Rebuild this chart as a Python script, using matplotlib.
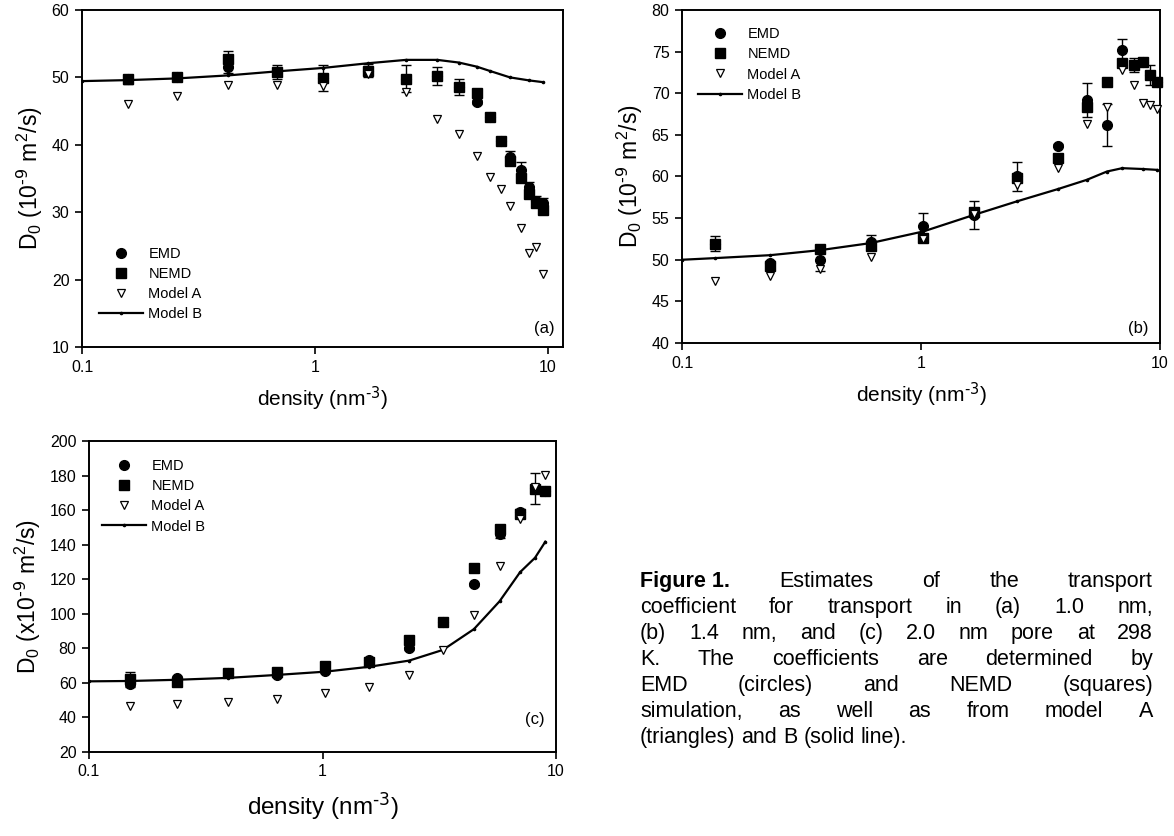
import numpy as np
import matplotlib
matplotlib.use("Agg")
import matplotlib.pyplot as plt
from matplotlib.lines import Line2D

plt.rcParams['font.family'] = ['Liberation Sans', 'DejaVu Sans']
plt.rcParams['mathtext.default'] = 'regular'

# ---- data ----
# (a) 1.0 nm pore
dens_a = [0.158, 0.256, 0.425, 0.69, 1.08, 1.69, 2.46, 3.35, 4.15, 4.94, 5.64, 6.27, 6.87, 7.63, 8.31, 8.88, 9.49]
emd_a = [49.7, 50.0, 51.5, 50.75, 49.9, 51.0, 49.8, 50.2, 48.6, 46.4, 44.1, 40.6, 38.2, 36.3, 33.7, 31.6, 31.3]
emd_a_err = [0.7, 0.4, 0.8, 1.05, 1.9, 1.0, 2.0, 1.4, 1.2, 0.3, 0.3, 0.3, 0.9, 1.1, 0.85, 0.85, 0.85]
nemd_a = [49.7, 50.0, 52.8, 50.75, 49.9, 51.0, 49.8, 50.2, 48.6, 47.7, 44.1, 40.6, 37.6, 35.1, 32.7, 31.4, 30.3]
nemd_a_err = [0.3, 0.3, 1.1, 0.3, 0.3, 0.3, 0.3, 0.3, 0.3, 0.3, 0.3, 0.3, 0.3, 0.3, 0.3, 0.3, 0.3]
modelA_a = [46.0, 47.2, 48.9, 48.8, 48.7, 50.5, 47.8, 43.9, 41.6, 38.4, 35.2, 33.4, 30.9, 27.7, 23.9, 24.8, 20.8]
mb_a_x = [0.1, 0.158, 0.256, 0.425, 0.69, 1.08, 1.69, 2.46, 3.35, 4.15, 4.94, 5.64, 6.87, 8.31, 9.49]
mb_a = [49.45, 49.6, 49.85, 50.3, 50.9, 51.4, 52.1, 52.6, 52.6, 52.2, 51.6, 50.95, 50.0, 49.55, 49.3]

# (b) 1.4 nm pore
dens_b = [0.138, 0.234, 0.378, 0.615, 1.023, 1.67, 2.51, 3.75, 4.94, 6.0, 6.95, 7.76, 8.46, 9.08, 9.68]
emd_b = [51.9, 49.6, 50.0, 52.1, 54.0, 55.4, 60.0, 63.7, 69.2, 66.2, 75.2, 73.4, 73.8, 72.2, 71.4]
emd_b_err = [0.9, 0.3, 1.3, 0.9, 1.6, 1.7, 1.7, 0.2, 2.0, 2.5, 1.3, 0.8, 0.3, 1.2, 0.3]
nemd_b = [51.9, 49.25, 51.3, 51.6, 52.6, 55.7, 59.8, 62.2, 68.3, 71.4, 73.6, 73.4, 73.8, 72.2, 71.4]
modelA_b = [47.5, 48.1, 48.85, 50.3, 52.5, 55.5, 59.0, 61.0, 66.3, 68.3, 72.8, 71.0, 68.8, 68.6, 68.1]
mb_b_x = [0.1, 0.138, 0.234, 0.378, 0.615, 1.023, 1.67, 2.51, 3.75, 4.94, 6.0, 6.95, 8.46, 9.68]
mb_b = [50.0, 50.2, 50.55, 51.15, 52.0, 53.4, 55.4, 57.0, 58.5, 59.6, 60.6, 61.0, 60.9, 60.8]

# (c) 2.0 nm pore
dens_c = [0.1496, 0.238, 0.394, 0.637, 1.028, 1.58, 2.35, 3.28, 4.45, 5.73, 7.02, 8.13, 9.0]
emd_c = [59.1, 62.8, 65.5, 64.6, 67.0, 73.5, 80.0, 95.4, 117.0, 146.1, 158.7, 172.6, 171.1]
emd_c_err = [1.5, 1.0, 1.0, 1.0, 1.0, 1.0, 1.0, 1.0, 1.0, 2.0, 2.0, 9.0, 2.0]
nemd_c = [62.4, 60.5, 65.5, 66.5, 69.8, 72.0, 85.0, 95.4, 126.7, 149.1, 158.0, 172.0, 171.1]
nemd_c_err = [4.0, 1.0, 1.0, 1.0, 1.5, 1.0, 2.0, 1.0, 1.0, 2.0, 1.0, 1.0, 2.0]
modelA_c = [46.5, 47.8, 49.0, 50.9, 54.0, 57.6, 64.6, 79.1, 99.4, 127.8, 154.6, 173.5, 180.6]
mb_c_x = [0.1, 0.1496, 0.238, 0.394, 0.637, 1.028, 1.58, 2.35, 3.28, 4.45, 5.73, 7.02, 8.13, 9.0]
mb_c = [60.9, 61.1, 61.8, 62.9, 64.6, 66.5, 69.3, 72.9, 79.1, 91.1, 107.2, 124.1, 132.4, 141.7]

caption_lines = [
    ["Figure 1.", "Estimates", "of", "the", "transport"],
    "coefficient for transport in (a) 1.0 nm,".split(),
    "(b) 1.4 nm, and (c) 2.0 nm pore at 298".split(),
    "K. The coefficients are determined by".split(),
    "EMD (circles) and NEMD (squares)".split(),
    "simulation, as well as from model A".split(),
    "(triangles) and B (solid line).".split(),
]

W, H = 1174, 836
fig = plt.figure(figsize=(W / 100, H / 100), dpi=100)

# legend proxies: plain symbols, no error bars
leg_handles = [
    Line2D([], [], ls='none', marker='o', color='black', ms=7),
    Line2D([], [], ls='none', marker='s', color='black', ms=6.5),
    Line2D([], [], ls='none', marker='v', mfc='white', mec='black', mew=0.9, ms=6),
    Line2D([], [], ls='-', lw=1.6, color='black', marker='o', ms=1.6),
]
leg_labels = ['EMD', 'NEMD', 'Model A', 'Model B']

ylab = r'D$_0$ (10$^{\text{-9}}$ m$^2$/s)'
ylab_c = r'D$_0$ (x10$^{\text{-9}}$ m$^2$/s)'
xlab = r'density (nm$^{\text{-3}}$)'


def px_axes(l, t, r, b):
    return fig.add_axes([l / W, 1 - b / H, (r - l) / W, (b - t) / H])


def panel(ax, x, emd, emd_err, nemd, nemd_err, ma, mbx, mb, xlim, ylim, yticks):
    ax.plot(mbx, mb, '-', color='black', lw=1.6, marker='o', ms=1.6, zorder=2)
    ax.errorbar(x, emd, yerr=emd_err, fmt='o', color='black', ms=7, capsize=3.5,
                elinewidth=1, capthick=1, zorder=3, clip_on=False)
    if nemd_err is None:
        ax.plot(x, nemd, 's', color='black', ms=6.5, zorder=3, clip_on=False)
    else:
        ax.errorbar(x, nemd, yerr=nemd_err, fmt='s', color='black', ms=6.5, capsize=3.5,
                    elinewidth=1, capthick=1, zorder=3, clip_on=False)
    ax.plot(x, ma, 'v', mfc='white', mec='black', mew=0.9, ms=6, zorder=4, clip_on=False)
    ax.set_xscale('log')
    ax.set_xlim(*xlim)
    ax.set_ylim(*ylim)
    ax.set_yticks(yticks)
    ax.set_xticks([0.1, 1, 10])
    ax.set_xticklabels(['0.1', '1', '10'])
    ax.minorticks_off()
    ax.tick_params(direction='out', length=5, width=1.2, labelsize=11.5, pad=4,
                   top=False, right=False)
    for s in ax.spines.values():
        s.set_linewidth(1.4)


leg_kw = dict(frameon=False, fontsize=10.5, handlelength=3.0, handletextpad=0.4,
              labelspacing=0.42, borderpad=0)

# (a)
ax_a = px_axes(82, 10, 563, 347)
panel(ax_a, dens_a, emd_a, emd_a_err, nemd_a, nemd_a_err, modelA_a, mb_a_x, mb_a,
      (0.1, 11.6), (10, 60), np.arange(10, 61, 10))
ax_a.legend(leg_handles, leg_labels, loc='lower left', bbox_to_anchor=(0.02, 0.055), **leg_kw)
ax_a.set_ylabel(ylab, fontsize=16.5, labelpad=5)
ax_a.set_xlabel(xlab, fontsize=15, labelpad=7)
ax_a.text(0.982, 0.055, '(a)', transform=ax_a.transAxes, ha='right', va='center', fontsize=12)

# (b)
ax_b = px_axes(682, 10, 1160, 343)
panel(ax_b, dens_b, emd_b, emd_b_err, nemd_b, None, modelA_b, mb_b_x, mb_b,
      (0.1, 10), (40, 80), np.arange(40, 81, 5))
ax_b.legend(leg_handles, leg_labels, loc='upper left', bbox_to_anchor=(0.018, 0.97), **leg_kw)
ax_b.set_ylabel(ylab, fontsize=16.5, labelpad=5)
ax_b.set_xlabel(xlab, fontsize=15, labelpad=7)
ax_b.text(0.975, 0.045, '(b)', transform=ax_b.transAxes, ha='right', va='center', fontsize=12)

# (c)
ax_c = px_axes(89, 441, 556, 752)
panel(ax_c, dens_c, emd_c, emd_c_err, nemd_c, nemd_c_err, modelA_c, mb_c_x, mb_c,
      (0.1, 10), (20, 200), np.arange(20, 201, 20))
ax_c.legend(leg_handles, leg_labels, loc='upper left', bbox_to_anchor=(0.012, 0.965), **leg_kw)
ax_c.set_ylabel(ylab_c, fontsize=16.5, labelpad=5)
ax_c.set_xlabel(xlab, fontsize=17.5, labelpad=8)
ax_c.text(0.975, 0.105, '(c)', transform=ax_c.transAxes, ha='right', va='center', fontsize=12)

# caption, justified word by word
fs_cap = 15.5
fig.canvas.draw()
renderer = fig.canvas.get_renderer()
x0, x1 = 640, 1153
y_first, dy = 587, 26
space_w = fig.text(0, 0, 'a b', fontsize=fs_cap, alpha=0).get_window_extent(renderer).width \
    - fig.text(0, 0, 'ab', fontsize=fs_cap, alpha=0).get_window_extent(renderer).width
for i, words in enumerate(caption_lines):
    y = 1 - (y_first + i * dy) / H
    objs = []
    for j, w in enumerate(words):
        bold = (i == 0 and j == 0)
        t = fig.text(0, y, w, fontsize=fs_cap, va='baseline', ha='left',
                     fontweight='bold' if bold else 'normal')
        objs.append(t)
    widths = [t.get_window_extent(renderer).width for t in objs]
    if i < len(caption_lines) - 1:
        gap = (x1 - x0 - sum(widths)) / (len(words) - 1)
    else:
        gap = space_w
    xp = x0
    for t, wd in zip(objs, widths):
        t.set_x(xp / W)
        xp += wd + gap

fig.savefig('out.png', dpi=100)
